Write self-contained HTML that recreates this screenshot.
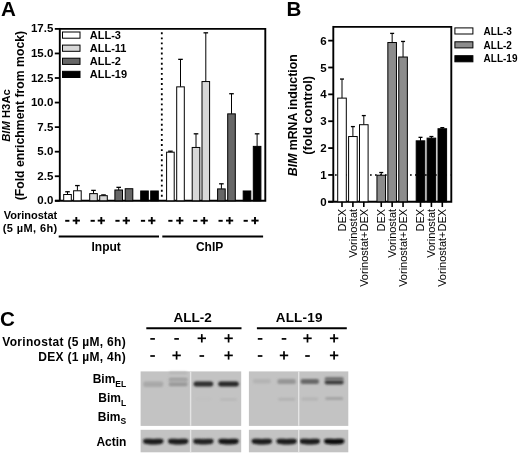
<!DOCTYPE html>
<html><head><meta charset="utf-8"><style>
html,body{margin:0;padding:0;background:#fff;}
body{width:520px;height:454px;overflow:hidden;}
svg{display:block;font-family:"Liberation Sans", sans-serif;will-change:transform;}
</style></head><body>
<svg width="520" height="454" viewBox="0 0 520 454" fill="#000">
<defs>
<filter id="b1" x="-30%" y="-100%" width="160%" height="300%"><feGaussianBlur stdDeviation="1.1"/></filter>
<filter id="b2" x="-30%" y="-100%" width="160%" height="300%"><feGaussianBlur stdDeviation="0.8"/></filter>
</defs>
<text x="0.9" y="15.9" font-size="20.6" font-weight="bold">A</text>
<path d="M59.8 28.9 H265.3 V200.8 H55" fill="none" stroke="#000" stroke-width="1.9"/>
<line x1="59.8" y1="27.95" x2="59.8" y2="200.8" stroke="#000" stroke-width="1.9"/>
<line x1="54.8" y1="200.80" x2="59.8" y2="200.80" stroke="#000" stroke-width="1.8"/>
<text x="53.3" y="204.30" font-size="11.5" font-weight="bold" text-anchor="end">0.0</text>
<line x1="54.8" y1="176.24" x2="59.8" y2="176.24" stroke="#000" stroke-width="1.8"/>
<text x="53.3" y="179.74" font-size="11.5" font-weight="bold" text-anchor="end">2.5</text>
<line x1="54.8" y1="151.69" x2="59.8" y2="151.69" stroke="#000" stroke-width="1.8"/>
<text x="53.3" y="155.19" font-size="11.5" font-weight="bold" text-anchor="end">5.0</text>
<line x1="54.8" y1="127.13" x2="59.8" y2="127.13" stroke="#000" stroke-width="1.8"/>
<text x="53.3" y="130.63" font-size="11.5" font-weight="bold" text-anchor="end">7.5</text>
<line x1="54.8" y1="102.57" x2="59.8" y2="102.57" stroke="#000" stroke-width="1.8"/>
<text x="53.3" y="106.07" font-size="11.5" font-weight="bold" text-anchor="end">10.0</text>
<line x1="54.8" y1="78.01" x2="59.8" y2="78.01" stroke="#000" stroke-width="1.8"/>
<text x="53.3" y="81.51" font-size="11.5" font-weight="bold" text-anchor="end">12.5</text>
<line x1="54.8" y1="53.46" x2="59.8" y2="53.46" stroke="#000" stroke-width="1.8"/>
<text x="53.3" y="56.96" font-size="11.5" font-weight="bold" text-anchor="end">15.0</text>
<line x1="54.8" y1="28.90" x2="59.8" y2="28.90" stroke="#000" stroke-width="1.8"/>
<text x="53.3" y="32.40" font-size="11.5" font-weight="bold" text-anchor="end">17.5</text>
<text transform="translate(9.7 115.5) rotate(-90)" font-size="11.25" font-weight="bold" text-anchor="middle"><tspan font-style="italic">BIM</tspan> H3Ac</text>
<text transform="translate(24.3 115.6) rotate(-90)" font-size="12.25" font-weight="bold" text-anchor="middle">(Fold enrichment from mock)</text>
<rect x="62.5" y="32.00" width="17.5" height="6.2" fill="#ffffff" stroke="#000" stroke-width="1"/>
<text x="89.8" y="39.20" font-size="11" font-weight="bold">ALL-3</text>
<rect x="62.5" y="45.10" width="17.5" height="6.2" fill="#d8d8d8" stroke="#000" stroke-width="1"/>
<text x="89.8" y="52.00" font-size="11" font-weight="bold">ALL-11</text>
<rect x="62.5" y="58.20" width="17.5" height="6.2" fill="#676767" stroke="#000" stroke-width="1"/>
<text x="89.8" y="64.80" font-size="11" font-weight="bold">ALL-2</text>
<rect x="62.5" y="71.30" width="17.5" height="6.2" fill="#000000" stroke="#000" stroke-width="1"/>
<text x="89.8" y="77.60" font-size="11" font-weight="bold">ALL-19</text>
<line x1="161.8" y1="32.3" x2="161.8" y2="199" stroke="#000" stroke-width="1.8" stroke-dasharray="1.9 3.18"/>
<line x1="67.50" y1="191.76" x2="67.50" y2="194.51" stroke="#000" stroke-width="1"/>
<line x1="65.20" y1="191.76" x2="69.80" y2="191.76" stroke="#000" stroke-width="1.3"/>
<rect x="63.70" y="194.51" width="7.6" height="6.29" fill="#ffffff" stroke="#000" stroke-width="1"/>
<line x1="77.40" y1="185.57" x2="77.40" y2="190.78" stroke="#000" stroke-width="1"/>
<line x1="75.10" y1="185.57" x2="79.70" y2="185.57" stroke="#000" stroke-width="1.3"/>
<rect x="73.60" y="190.78" width="7.6" height="10.02" fill="#ffffff" stroke="#000" stroke-width="1"/>
<line x1="93.50" y1="190.39" x2="93.50" y2="193.63" stroke="#000" stroke-width="1"/>
<line x1="91.20" y1="190.39" x2="95.80" y2="190.39" stroke="#000" stroke-width="1.3"/>
<rect x="89.70" y="193.63" width="7.6" height="7.17" fill="#d8d8d8" stroke="#000" stroke-width="1"/>
<line x1="103.50" y1="194.91" x2="103.50" y2="195.69" stroke="#000" stroke-width="1"/>
<line x1="101.20" y1="194.91" x2="105.80" y2="194.91" stroke="#000" stroke-width="1.3"/>
<rect x="99.70" y="195.69" width="7.6" height="5.11" fill="#d8d8d8" stroke="#000" stroke-width="1"/>
<line x1="118.70" y1="187.34" x2="118.70" y2="189.99" stroke="#000" stroke-width="1"/>
<line x1="116.40" y1="187.34" x2="121.00" y2="187.34" stroke="#000" stroke-width="1.3"/>
<rect x="114.90" y="189.99" width="7.6" height="10.81" fill="#676767" stroke="#000" stroke-width="1"/>
<rect x="125.20" y="188.72" width="7.6" height="12.08" fill="#676767" stroke="#000" stroke-width="1"/>
<rect x="140.70" y="190.98" width="7.6" height="9.82" fill="#000000" stroke="#000" stroke-width="1"/>
<rect x="150.70" y="190.98" width="7.6" height="9.82" fill="#000000" stroke="#000" stroke-width="1"/>
<line x1="170.40" y1="151.19" x2="170.40" y2="152.18" stroke="#000" stroke-width="1"/>
<line x1="168.10" y1="151.19" x2="172.70" y2="151.19" stroke="#000" stroke-width="1.3"/>
<rect x="166.60" y="152.18" width="7.6" height="48.62" fill="#ffffff" stroke="#000" stroke-width="1"/>
<line x1="180.50" y1="59.35" x2="180.50" y2="86.85" stroke="#000" stroke-width="1"/>
<line x1="178.20" y1="59.35" x2="182.80" y2="59.35" stroke="#000" stroke-width="1.3"/>
<rect x="176.70" y="86.85" width="7.6" height="113.95" fill="#ffffff" stroke="#000" stroke-width="1"/>
<line x1="196.00" y1="133.81" x2="196.00" y2="147.46" stroke="#000" stroke-width="1"/>
<line x1="193.70" y1="133.81" x2="198.30" y2="133.81" stroke="#000" stroke-width="1.3"/>
<rect x="192.20" y="147.46" width="7.6" height="53.34" fill="#d8d8d8" stroke="#000" stroke-width="1"/>
<line x1="205.80" y1="32.83" x2="205.80" y2="81.55" stroke="#000" stroke-width="1"/>
<line x1="203.50" y1="32.83" x2="208.10" y2="32.83" stroke="#000" stroke-width="1.3"/>
<rect x="202.00" y="81.55" width="7.6" height="119.25" fill="#d8d8d8" stroke="#000" stroke-width="1"/>
<line x1="221.40" y1="183.81" x2="221.40" y2="188.91" stroke="#000" stroke-width="1"/>
<line x1="219.10" y1="183.81" x2="223.70" y2="183.81" stroke="#000" stroke-width="1.3"/>
<rect x="217.60" y="188.91" width="7.6" height="11.89" fill="#676767" stroke="#000" stroke-width="1"/>
<line x1="231.50" y1="93.73" x2="231.50" y2="113.87" stroke="#000" stroke-width="1"/>
<line x1="229.20" y1="93.73" x2="233.80" y2="93.73" stroke="#000" stroke-width="1.3"/>
<rect x="227.70" y="113.87" width="7.6" height="86.93" fill="#676767" stroke="#000" stroke-width="1"/>
<rect x="243.20" y="190.98" width="7.6" height="9.82" fill="#000000" stroke="#000" stroke-width="1"/>
<line x1="257.10" y1="133.81" x2="257.10" y2="146.38" stroke="#000" stroke-width="1"/>
<line x1="254.80" y1="133.81" x2="259.40" y2="133.81" stroke="#000" stroke-width="1.3"/>
<rect x="253.30" y="146.38" width="7.6" height="54.42" fill="#000000" stroke="#000" stroke-width="1"/>
<text x="30.5" y="218.7" font-size="11" font-weight="bold" text-anchor="middle">Vorinostat</text>
<text x="30.2" y="232.3" font-size="11" font-weight="bold" text-anchor="middle" letter-spacing="0.4">(5 µM, 6h)</text>
<rect x="65.20" y="219.85" width="4.2" height="1.9"/>
<rect x="72.70" y="219.65" width="7.2" height="1.9"/><rect x="75.35" y="217.00" width="1.9" height="7.2"/>
<rect x="90.60" y="219.85" width="4.2" height="1.9"/>
<rect x="97.70" y="219.65" width="7.2" height="1.9"/><rect x="100.35" y="217.00" width="1.9" height="7.2"/>
<rect x="115.40" y="219.85" width="4.2" height="1.9"/>
<rect x="122.70" y="219.65" width="7.2" height="1.9"/><rect x="125.35" y="217.00" width="1.9" height="7.2"/>
<rect x="140.90" y="219.85" width="4.2" height="1.9"/>
<rect x="148.20" y="219.65" width="7.2" height="1.9"/><rect x="150.85" y="217.00" width="1.9" height="7.2"/>
<rect x="168.30" y="219.85" width="4.2" height="1.9"/>
<rect x="176.20" y="219.65" width="7.2" height="1.9"/><rect x="178.85" y="217.00" width="1.9" height="7.2"/>
<rect x="193.10" y="219.85" width="4.2" height="1.9"/>
<rect x="200.60" y="219.65" width="7.2" height="1.9"/><rect x="203.25" y="217.00" width="1.9" height="7.2"/>
<rect x="218.50" y="219.85" width="4.2" height="1.9"/>
<rect x="226.00" y="219.65" width="7.2" height="1.9"/><rect x="228.65" y="217.00" width="1.9" height="7.2"/>
<rect x="243.60" y="219.85" width="4.2" height="1.9"/>
<rect x="251.40" y="219.65" width="7.2" height="1.9"/><rect x="254.05" y="217.00" width="1.9" height="7.2"/>
<line x1="58.7" y1="236.4" x2="159" y2="236.4" stroke="#000" stroke-width="2"/>
<line x1="162.3" y1="236.4" x2="263.1" y2="236.4" stroke="#000" stroke-width="2"/>
<text x="106.2" y="250.8" font-size="12" font-weight="bold" text-anchor="middle">Input</text>
<text x="209.6" y="250.8" font-size="12" font-weight="bold" text-anchor="middle">ChIP</text>
<text x="286.6" y="16.2" font-size="20.6" font-weight="bold">B</text>
<path d="M333.3 26.9 H451.3 V201.8 H328.2" fill="none" stroke="#000" stroke-width="1.9"/>
<line x1="333.3" y1="25.95" x2="333.3" y2="201.8" stroke="#000" stroke-width="1.9"/>
<line x1="328.2" y1="201.80" x2="333.3" y2="201.80" stroke="#000" stroke-width="1.8"/>
<text x="326.6" y="205.80" font-size="11.5" font-weight="bold" text-anchor="end">0</text>
<line x1="328.2" y1="174.94" x2="333.3" y2="174.94" stroke="#000" stroke-width="1.8"/>
<text x="326.6" y="178.94" font-size="11.5" font-weight="bold" text-anchor="end">1</text>
<line x1="328.2" y1="148.08" x2="333.3" y2="148.08" stroke="#000" stroke-width="1.8"/>
<text x="326.6" y="152.08" font-size="11.5" font-weight="bold" text-anchor="end">2</text>
<line x1="328.2" y1="121.22" x2="333.3" y2="121.22" stroke="#000" stroke-width="1.8"/>
<text x="326.6" y="125.22" font-size="11.5" font-weight="bold" text-anchor="end">3</text>
<line x1="328.2" y1="94.36" x2="333.3" y2="94.36" stroke="#000" stroke-width="1.8"/>
<text x="326.6" y="98.36" font-size="11.5" font-weight="bold" text-anchor="end">4</text>
<line x1="328.2" y1="67.50" x2="333.3" y2="67.50" stroke="#000" stroke-width="1.8"/>
<text x="326.6" y="71.50" font-size="11.5" font-weight="bold" text-anchor="end">5</text>
<line x1="328.2" y1="40.64" x2="333.3" y2="40.64" stroke="#000" stroke-width="1.8"/>
<text x="326.6" y="44.64" font-size="11.5" font-weight="bold" text-anchor="end">6</text>
<text transform="translate(297.3 115.25) rotate(-90)" font-size="12.3" font-weight="bold" text-anchor="middle"><tspan font-style="italic">BIM</tspan> mRNA induction</text>
<text transform="translate(311.8 115.35) rotate(-90)" font-size="12.75" font-weight="bold" text-anchor="middle">(fold control)</text>
<line x1="335" y1="174.94" x2="450.3" y2="174.94" stroke="#000" stroke-width="1.6" stroke-dasharray="1.7 3.3"/>
<line x1="342.00" y1="79.05" x2="342.00" y2="98.12" stroke="#000" stroke-width="1"/>
<line x1="340.00" y1="79.05" x2="344.00" y2="79.05" stroke="#000" stroke-width="1.3"/>
<rect x="337.70" y="98.12" width="8.6" height="103.68" fill="#ffffff" stroke="#000" stroke-width="1"/>
<line x1="342.00" y1="201.8" x2="342.00" y2="207" stroke="#000" stroke-width="1.6"/>
<text transform="translate(345.90 208.9) rotate(-90)" font-size="11" text-anchor="end">DEX</text>
<line x1="352.90" y1="126.59" x2="352.90" y2="136.53" stroke="#000" stroke-width="1"/>
<line x1="350.90" y1="126.59" x2="354.90" y2="126.59" stroke="#000" stroke-width="1.3"/>
<rect x="348.60" y="136.53" width="8.6" height="65.27" fill="#ffffff" stroke="#000" stroke-width="1"/>
<line x1="352.90" y1="201.8" x2="352.90" y2="207" stroke="#000" stroke-width="1.6"/>
<text transform="translate(356.80 208.9) rotate(-90)" font-size="11" text-anchor="end">Vorinostat</text>
<line x1="363.80" y1="115.58" x2="363.80" y2="124.71" stroke="#000" stroke-width="1"/>
<line x1="361.80" y1="115.58" x2="365.80" y2="115.58" stroke="#000" stroke-width="1.3"/>
<rect x="359.50" y="124.71" width="8.6" height="77.09" fill="#ffffff" stroke="#000" stroke-width="1"/>
<line x1="363.80" y1="201.8" x2="363.80" y2="207" stroke="#000" stroke-width="1.6"/>
<text transform="translate(367.70 208.9) rotate(-90)" font-size="11" text-anchor="end">Vorinostat+DEX</text>
<line x1="381.25" y1="172.52" x2="381.25" y2="175.21" stroke="#000" stroke-width="1"/>
<line x1="379.25" y1="172.52" x2="383.25" y2="172.52" stroke="#000" stroke-width="1.3"/>
<rect x="376.95" y="175.21" width="8.6" height="26.59" fill="#8c8c8c" stroke="#000" stroke-width="1"/>
<line x1="381.25" y1="201.8" x2="381.25" y2="207" stroke="#000" stroke-width="1.6"/>
<text transform="translate(385.15 208.9) rotate(-90)" font-size="11" text-anchor="end">DEX</text>
<line x1="392.15" y1="33.39" x2="392.15" y2="42.52" stroke="#000" stroke-width="1"/>
<line x1="390.15" y1="33.39" x2="394.15" y2="33.39" stroke="#000" stroke-width="1.3"/>
<rect x="387.85" y="42.52" width="8.6" height="159.28" fill="#8c8c8c" stroke="#000" stroke-width="1"/>
<line x1="392.15" y1="201.8" x2="392.15" y2="207" stroke="#000" stroke-width="1.6"/>
<text transform="translate(396.05 208.9) rotate(-90)" font-size="11" text-anchor="end">Vorinostat</text>
<line x1="403.05" y1="41.45" x2="403.05" y2="57.02" stroke="#000" stroke-width="1"/>
<line x1="401.05" y1="41.45" x2="405.05" y2="41.45" stroke="#000" stroke-width="1.3"/>
<rect x="398.75" y="57.02" width="8.6" height="144.78" fill="#8c8c8c" stroke="#000" stroke-width="1"/>
<line x1="403.05" y1="201.8" x2="403.05" y2="207" stroke="#000" stroke-width="1.6"/>
<text transform="translate(406.95 208.9) rotate(-90)" font-size="11" text-anchor="end">Vorinostat+DEX</text>
<line x1="420.50" y1="137.34" x2="420.50" y2="140.83" stroke="#000" stroke-width="1"/>
<line x1="418.50" y1="137.34" x2="422.50" y2="137.34" stroke="#000" stroke-width="1.3"/>
<rect x="416.20" y="140.83" width="8.6" height="60.97" fill="#000000" stroke="#000" stroke-width="1"/>
<line x1="420.50" y1="201.8" x2="420.50" y2="207" stroke="#000" stroke-width="1.6"/>
<text transform="translate(424.40 208.9) rotate(-90)" font-size="11" text-anchor="end">DEX</text>
<line x1="431.40" y1="136.53" x2="431.40" y2="138.14" stroke="#000" stroke-width="1"/>
<line x1="429.40" y1="136.53" x2="433.40" y2="136.53" stroke="#000" stroke-width="1.3"/>
<rect x="427.10" y="138.14" width="8.6" height="63.66" fill="#000000" stroke="#000" stroke-width="1"/>
<line x1="431.40" y1="201.8" x2="431.40" y2="207" stroke="#000" stroke-width="1.6"/>
<text transform="translate(435.30 208.9) rotate(-90)" font-size="11" text-anchor="end">Vorinostat</text>
<line x1="442.30" y1="127.67" x2="442.30" y2="128.74" stroke="#000" stroke-width="1"/>
<line x1="440.30" y1="127.67" x2="444.30" y2="127.67" stroke="#000" stroke-width="1.3"/>
<rect x="438.00" y="128.74" width="8.6" height="73.06" fill="#000000" stroke="#000" stroke-width="1"/>
<line x1="442.30" y1="201.8" x2="442.30" y2="207" stroke="#000" stroke-width="1.6"/>
<text transform="translate(446.20 208.9) rotate(-90)" font-size="11" text-anchor="end">Vorinostat+DEX</text>
<rect x="454.9" y="27.90" width="18" height="6.1" fill="#ffffff" stroke="#000" stroke-width="1"/>
<text x="483.6" y="35.10" font-size="10" font-weight="bold">ALL-3</text>
<rect x="454.9" y="41.80" width="18" height="6.1" fill="#8c8c8c" stroke="#000" stroke-width="1"/>
<text x="483.6" y="48.70" font-size="10" font-weight="bold">ALL-2</text>
<rect x="454.9" y="55.70" width="18" height="6.1" fill="#000000" stroke="#000" stroke-width="1"/>
<text x="483.6" y="62.30" font-size="10" font-weight="bold">ALL-19</text>
<text x="0.1" y="326.3" font-size="20.6" font-weight="bold">C</text>
<text x="126" y="345.6" font-size="12" font-weight="bold" text-anchor="end" letter-spacing="0.3">Vorinostat (5 µM, 6h)</text>
<text x="126" y="361.3" font-size="12" font-weight="bold" text-anchor="end" letter-spacing="0.3">DEX (1 µM, 4h)</text>
<text x="192.6" y="321.7" font-size="13.5" font-weight="bold" text-anchor="middle">ALL-2</text>
<text x="299.2" y="321.7" font-size="13.5" font-weight="bold" text-anchor="middle" letter-spacing="0.2">ALL-19</text>
<line x1="146.3" y1="328.3" x2="241.5" y2="328.3" stroke="#000" stroke-width="2"/>
<line x1="256.9" y1="328.3" x2="346.8" y2="328.3" stroke="#000" stroke-width="2"/>
<rect x="150.30" y="338.05" width="4.6" height="1.7"/>
<rect x="150.30" y="355.15" width="4.6" height="1.7"/>
<rect x="174.30" y="338.05" width="4.6" height="1.7"/>
<rect x="172.40" y="354.55" width="8.4" height="1.7"/><rect x="175.75" y="351.20" width="1.7" height="8.4"/>
<rect x="197.60" y="337.45" width="8.4" height="1.7"/><rect x="200.95" y="334.10" width="1.7" height="8.4"/>
<rect x="199.50" y="355.15" width="4.6" height="1.7"/>
<rect x="224.40" y="337.45" width="8.4" height="1.7"/><rect x="227.75" y="334.10" width="1.7" height="8.4"/>
<rect x="224.40" y="354.55" width="8.4" height="1.7"/><rect x="227.75" y="351.20" width="1.7" height="8.4"/>
<rect x="257.80" y="338.05" width="4.6" height="1.7"/>
<rect x="257.80" y="355.15" width="4.6" height="1.7"/>
<rect x="281.70" y="338.05" width="4.6" height="1.7"/>
<rect x="279.80" y="354.55" width="8.4" height="1.7"/><rect x="283.15" y="351.20" width="1.7" height="8.4"/>
<rect x="303.30" y="337.45" width="8.4" height="1.7"/><rect x="306.65" y="334.10" width="1.7" height="8.4"/>
<rect x="305.20" y="355.15" width="4.6" height="1.7"/>
<rect x="329.90" y="337.45" width="8.4" height="1.7"/><rect x="333.25" y="334.10" width="1.7" height="8.4"/>
<rect x="329.90" y="354.55" width="8.4" height="1.7"/><rect x="333.25" y="351.20" width="1.7" height="8.4"/>
<text x="126.2" y="383.4" font-size="12" font-weight="bold" text-anchor="end">Bim<tspan font-size="8.5" dy="3.3">EL</tspan></text>
<text x="126.2" y="402.3" font-size="12" font-weight="bold" text-anchor="end">Bim<tspan font-size="8.5" dy="3.3">L</tspan></text>
<text x="126.2" y="420.5" font-size="12" font-weight="bold" text-anchor="end">Bim<tspan font-size="8.5" dy="3.3">S</tspan></text>
<text x="126.4" y="445.8" font-size="12" font-weight="bold" text-anchor="end">Actin</text>
<rect x="140.6" y="371.4" width="100.60" height="54.5" fill="#c3c3c3"/><rect x="140.6" y="429.8" width="100.60" height="22.5" fill="#c3c3c3"/><rect x="143.30" y="381.55" width="20" height="5.5" rx="2.2" fill="#a8a8a8" filter="url(#b1)"/><rect x="168.95" y="378.00" width="18.5" height="8.0" rx="2.2" fill="#b0b0b0" filter="url(#b1)"/><rect x="168.95" y="382.70" width="18.5" height="3.4" rx="1.7" fill="#999999" filter="url(#b1)"/><rect x="168.95" y="378.00" width="18.5" height="2.6" rx="1.3" fill="#a0a0a0" filter="url(#b1)"/><rect x="168.95" y="371.70" width="18.5" height="2.6" rx="1.3" fill="#b6b6b6" filter="url(#b1)"/><rect x="193.65" y="381.50" width="19.5" height="5.0" rx="2.2" fill="#2e2e2e" filter="url(#b1)"/><rect x="218.25" y="381.50" width="20.5" height="5.0" rx="2.2" fill="#262626" filter="url(#b1)"/><rect x="220.00" y="398.20" width="17" height="2.6" rx="1.3" fill="#b8b8b8" filter="url(#b1)"/><rect x="195.40" y="397.80" width="16" height="2.4" rx="1.2" fill="#c0c0c0" filter="url(#b1)"/><path d="M143.10 441.0 C143.10 438.2 146.30 438.9 153.30 438.9 C160.30 438.9 163.50 438.2 163.50 441.0 C163.50 444.5 159.30 444.4 153.30 444.4 C147.30 444.4 143.10 444.5 143.10 441.0 Z" fill="#1a1a1a" filter="url(#b2)"/><path d="M168.00 441.0 C168.00 438.2 171.20 438.9 178.20 438.9 C185.20 438.9 188.40 438.2 188.40 441.0 C188.40 444.5 184.20 444.4 178.20 444.4 C172.20 444.4 168.00 444.5 168.00 441.0 Z" fill="#1a1a1a" filter="url(#b2)"/><path d="M193.20 441.0 C193.20 438.2 196.40 438.9 203.40 438.9 C210.40 438.9 213.60 438.2 213.60 441.0 C213.60 444.5 209.40 444.4 203.40 444.4 C197.40 444.4 193.20 444.5 193.20 441.0 Z" fill="#202020" filter="url(#b2)"/><path d="M218.30 441.0 C218.30 438.2 221.50 438.9 228.50 438.9 C235.50 438.9 238.70 438.2 238.70 441.0 C238.70 444.5 234.50 444.4 228.50 444.4 C222.50 444.4 218.30 444.5 218.30 441.0 Z" fill="#121212" filter="url(#b2)"/><rect x="189.90" y="371.4" width="1.4" height="54.4" fill="#e4e4e4"/><rect x="189.90" y="429.8" width="1.4" height="22.5" fill="#e4e4e4"/>
<rect x="248.9" y="371.4" width="99.40" height="54.5" fill="#c3c3c3"/><rect x="248.9" y="429.8" width="99.40" height="22.5" fill="#c3c3c3"/><rect x="252.80" y="379.05" width="18" height="4.5" rx="2.2" fill="#b4b4b4" filter="url(#b1)"/><rect x="277.35" y="379.10" width="18.5" height="5.0" rx="2.2" fill="#969696" filter="url(#b1)"/><rect x="300.55" y="379.00" width="18.5" height="5.0" rx="2.2" fill="#686868" filter="url(#b1)"/><rect x="324.70" y="380.05" width="19" height="4.5" rx="2.2" fill="#404040" filter="url(#b1)"/><rect x="324.70" y="377.30" width="19" height="3.0" rx="1.5" fill="#6a6a6a" filter="url(#b1)"/><rect x="278.10" y="397.80" width="17" height="3.0" rx="1.5" fill="#b2b2b2" filter="url(#b1)"/><rect x="301.30" y="397.50" width="17" height="3.0" rx="1.5" fill="#b4b4b4" filter="url(#b1)"/><rect x="325.20" y="397.10" width="18" height="3.0" rx="1.5" fill="#a4a4a4" filter="url(#b1)"/><path d="M251.60 441.0 C251.60 438.2 254.80 438.9 261.80 438.9 C268.80 438.9 272.00 438.2 272.00 441.0 C272.00 444.5 267.80 444.4 261.80 444.4 C255.80 444.4 251.60 444.5 251.60 441.0 Z" fill="#1a1a1a" filter="url(#b2)"/><path d="M276.40 441.0 C276.40 438.2 279.60 438.9 286.60 438.9 C293.60 438.9 296.80 438.2 296.80 441.0 C296.80 444.5 292.60 444.4 286.60 444.4 C280.60 444.4 276.40 444.5 276.40 441.0 Z" fill="#1a1a1a" filter="url(#b2)"/><path d="M299.60 441.0 C299.60 438.2 302.80 438.9 309.80 438.9 C316.80 438.9 320.00 438.2 320.00 441.0 C320.00 444.5 315.80 444.4 309.80 444.4 C303.80 444.4 299.60 444.5 299.60 441.0 Z" fill="#1c1c1c" filter="url(#b2)"/><path d="M324.00 441.0 C324.00 438.2 327.20 438.9 334.20 438.9 C341.20 438.9 344.40 438.2 344.40 441.0 C344.40 444.5 340.20 444.4 334.20 444.4 C328.20 444.4 324.00 444.5 324.00 441.0 Z" fill="#101010" filter="url(#b2)"/><rect x="298.00" y="371.4" width="1.4" height="54.4" fill="#e4e4e4"/><rect x="298.00" y="429.8" width="1.4" height="22.5" fill="#e4e4e4"/>
</svg>
</body></html>
